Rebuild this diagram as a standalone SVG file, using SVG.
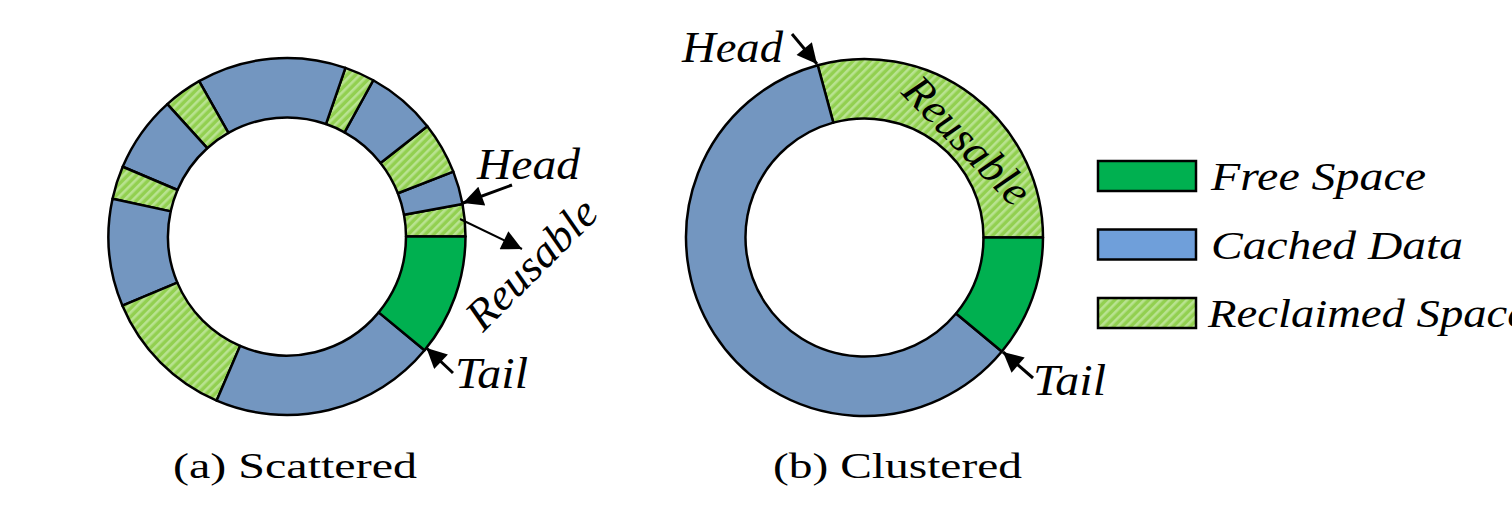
<svg xmlns="http://www.w3.org/2000/svg" width="1512" height="514" viewBox="0 0 1512 514">
<defs>
<pattern id="hatch" width="6" height="6" patternUnits="userSpaceOnUse" patternTransform="rotate(45)">
<rect width="6" height="6" fill="#92D050"/>
<rect width="2.6" height="6" fill="#B9E391"/>
</pattern>
<marker id="ah" viewBox="0 0 10 10" markerUnits="userSpaceOnUse" markerWidth="22" markerHeight="20" refX="10" refY="5" orient="auto">
<path d="M0,0 L10,5 L0,10 z" fill="#000"/>
</marker>
<style>
.seg{stroke:#000;stroke-width:2.5;stroke-linejoin:round}
.recl{fill:url(#hatch)}
.blue{fill:#7396C0}
.free{fill:#00B050}
text{font-family:'Liberation Serif',Tinos,'Times New Roman',Times,serif;fill:#000}
.lbl{font-style:italic;font-size:44px}
.cap{font-size:36px}
.leg{font-style:italic;font-size:40px}
.arr{stroke:#000;fill:none;marker-end:url(#ah)}
.lbox{stroke:#000;stroke-width:2.5}
</style>
</defs>
<rect width="1512" height="514" fill="#fff"/>

<g id="ring-a">
<path class="seg recl" d="M465.5,236.5 A178.5,178.5 0 0 0 462.51,203.97 L404.01,214.81 A119,119 0 0 1 406,236.5 Z"/>
<path class="seg blue" d="M462.51,203.97 A178.5,178.5 0 0 0 453.31,171.66 L397.87,193.27 A119,119 0 0 1 404.01,214.81 Z"/>
<path class="seg recl" d="M453.31,171.66 A178.5,178.5 0 0 0 427.31,126.15 L380.54,162.93 A119,119 0 0 1 397.87,193.27 Z"/>
<path class="seg blue" d="M427.31,126.15 A178.5,178.5 0 0 0 373.27,80.23 L344.51,132.32 A119,119 0 0 1 380.54,162.93 Z"/>
<path class="seg recl" d="M373.27,80.23 A178.5,178.5 0 0 0 345.41,67.83 L325.94,124.05 A119,119 0 0 1 344.51,132.32 Z"/>
<path class="seg blue" d="M345.41,67.83 A178.5,178.5 0 0 0 199.10,81.14 L228.40,132.93 A119,119 0 0 1 325.94,124.05 Z"/>
<path class="seg recl" d="M199.10,81.14 A178.5,178.5 0 0 0 167.33,104.06 L207.22,148.20 A119,119 0 0 1 228.40,132.93 Z"/>
<path class="seg blue" d="M167.33,104.06 A178.5,178.5 0 0 0 122.69,166.75 L177.46,190.00 A119,119 0 0 1 207.22,148.20 Z"/>
<path class="seg recl" d="M122.69,166.75 A178.5,178.5 0 0 0 112.53,198.78 L170.69,211.35 A119,119 0 0 1 177.46,190.00 Z"/>
<path class="seg blue" d="M112.53,198.78 A178.5,178.5 0 0 0 122.45,305.67 L177.30,282.61 A119,119 0 0 1 170.69,211.35 Z"/>
<path class="seg recl" d="M122.45,305.67 A178.5,178.5 0 0 0 216.68,400.57 L240.12,345.88 A119,119 0 0 1 177.30,282.61 Z"/>
<path class="seg blue" d="M216.68,400.57 A178.5,178.5 0 0 0 424.54,350.28 L378.69,312.35 A119,119 0 0 1 240.12,345.88 Z"/>
<path class="seg free" d="M424.54,350.28 A178.5,178.5 0 0 0 465.5,236.5 L406,236.5 A119,119 0 0 1 378.69,312.35 Z"/>
</g>

<g id="ring-b">
<path class="seg recl" d="M1043,237.5 A178.5,178.5 0 0 0 817.70,65.24 L833.30,122.66 A119,119 0 0 1 983.5,237.5 Z"/>
<path class="seg blue" d="M817.70,65.24 A178.5,178.5 0 1 0 1001.84,351.52 L956.06,313.51 A119,119 0 1 1 833.30,122.66 Z"/>
<path class="seg free" d="M1001.84,351.52 A178.5,178.5 0 0 0 1043,237.5 L983.5,237.5 A119,119 0 0 1 956.06,313.51 Z"/>
</g>

<g id="connectors">
<line class="arr" x1="512" y1="185" x2="463" y2="203" stroke-width="3"/>
<line class="arr" x1="460" y1="219" x2="522" y2="249" stroke-width="2"/>
<line class="arr" x1="453" y1="373" x2="426.5" y2="348" stroke-width="3"/>
<line class="arr" x1="792" y1="34" x2="817" y2="64" stroke-width="3"/>
<line class="arr" x1="1033" y1="378" x2="1003" y2="352" stroke-width="3"/>
</g>

<g id="labels-a">
<text class="lbl" x="477" y="179" textLength="103" lengthAdjust="spacingAndGlyphs">Head</text>
<text class="lbl" x="483" y="333" transform="rotate(-45 483 333)" textLength="166" lengthAdjust="spacingAndGlyphs">Reusable</text>
<text class="lbl" x="455" y="388" textLength="73" lengthAdjust="spacingAndGlyphs">Tail</text>
<text class="cap" x="173" y="478" textLength="244" lengthAdjust="spacingAndGlyphs">(a) Scattered</text>
</g>

<g id="labels-b">
<text class="lbl" x="682" y="62" textLength="101" lengthAdjust="spacingAndGlyphs">Head</text>
<text class="lbl" x="900" y="93" transform="rotate(45.5 900 93)" textLength="162" lengthAdjust="spacingAndGlyphs">Reusable</text>
<text class="lbl" x="1033" y="395" textLength="73" lengthAdjust="spacingAndGlyphs">Tail</text>
<text class="cap" x="773" y="478" textLength="249" lengthAdjust="spacingAndGlyphs">(b) Clustered</text>
</g>

<g id="legend-free">
<rect class="lbox" x="1098" y="161" width="98" height="30" fill="#00B050"/>
<text class="leg" x="1211" y="190" textLength="215" lengthAdjust="spacingAndGlyphs">Free Space</text>
</g>
<g id="legend-cached">
<rect class="lbox" x="1098" y="229.5" width="98" height="30" fill="#6F9FDA"/>
<text class="leg" x="1211" y="258.5" textLength="252" lengthAdjust="spacingAndGlyphs">Cached Data</text>
</g>
<g id="legend-reclaimed">
<rect class="lbox" x="1098" y="298" width="98" height="30" fill="url(#hatch)"/>
<text class="leg" x="1208" y="327" textLength="320" lengthAdjust="spacingAndGlyphs">Reclaimed Space</text>
</g>
</svg>
